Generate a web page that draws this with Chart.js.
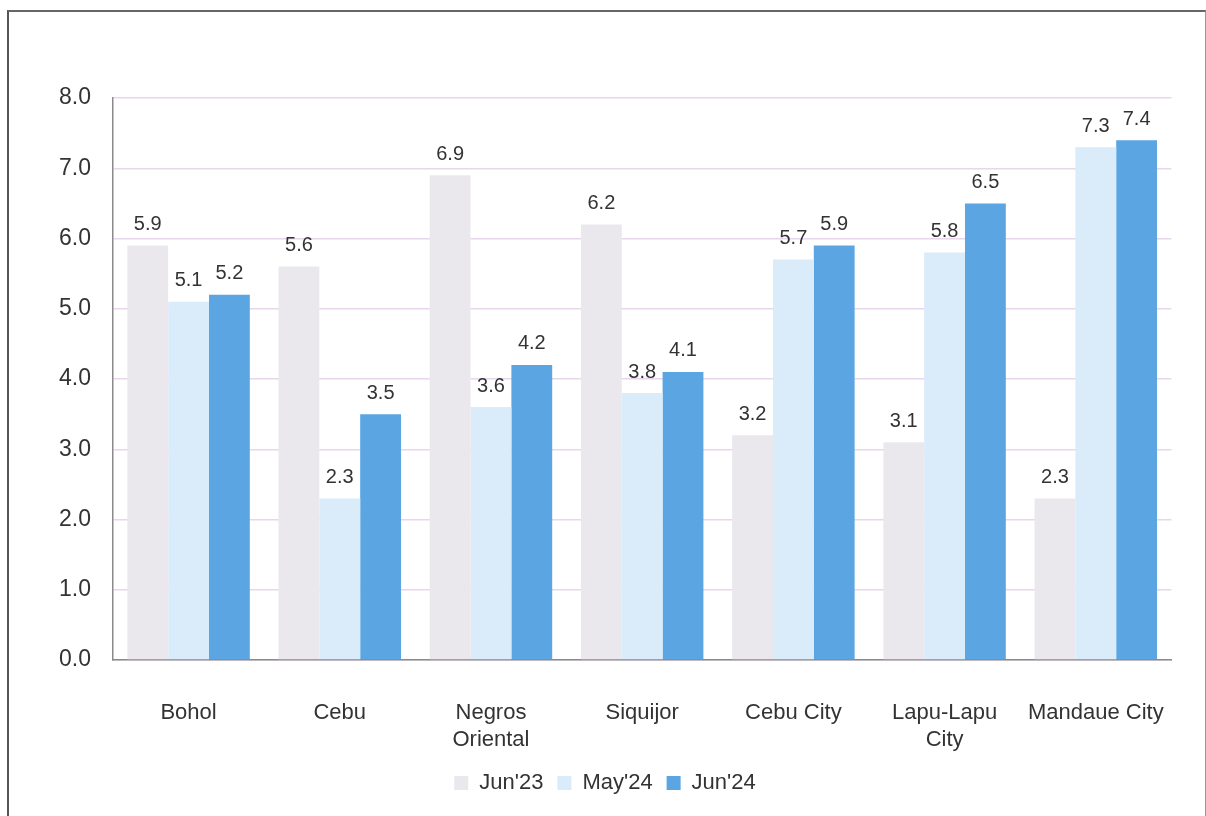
<!DOCTYPE html>
<html>
<head>
<meta charset="utf-8">
<script src="https://cdn.jsdelivr.net/npm/chart.js@4"></script>
<style>
  html, body { margin: 0; padding: 0; background: #fff; }
  #frame {
    position: absolute; left: 7px; top: 10px; width: 1196px; height: 820px;
    border-left: 2px solid #555; border-top: 2px solid #666; border-right: 1px solid #999;
  }
  #wrap { position: absolute; left: 0; top: 0; width: 1206px; height: 816px; }
</style>
</head>
<body>
<div id="frame"></div>
<div id="wrap"><canvas id="barChart"></canvas></div>
<script>
const provinces = ['Bohol', 'Cebu', ['Negros', 'Oriental'], 'Siquijor', 'Cebu City', ['Lapu-Lapu', 'City'], 'Mandaue City'];
const jun23 = [5.9, 5.6, 6.9, 6.2, 3.2, 3.1, 2.3];
const may24 = [5.1, 2.3, 3.6, 3.8, 5.7, 5.8, 7.3];
const jun24 = [5.2, 3.5, 4.2, 4.1, 5.9, 6.5, 7.4];
const yTicks = [0, 1, 2, 3, 4, 5, 6, 7, 8];

Chart.defaults.font.family = "'Liberation Sans', Arial, sans-serif";
Chart.defaults.color = '#333';

// value labels above each bar
const barLabels = {
    id: 'barLabels',
    afterDatasetsDraw(chart) {
        const c = chart.ctx;
        c.save();
        c.font = "20px 'Liberation Sans', Arial, sans-serif";
        c.fillStyle = '#333';
        c.textAlign = 'center';
        c.textBaseline = 'bottom';
        chart.data.datasets.forEach((ds, i) => {
            chart.getDatasetMeta(i).data.forEach((bar, j) => {
                c.fillText(ds.data[j].toFixed(1), bar.x, bar.y - 11);
            });
        });
        c.restore();
    }
};

const ctx = document.getElementById('barChart');

new Chart(ctx, {
    type: 'bar',
    data: {
        labels: provinces,
        datasets: [
            { label: "Jun'23", data: jun23, backgroundColor: '#eae8ed' },
            { label: "May'24", data: may24, backgroundColor: '#daebf9' },
            { label: "Jun'24", data: jun24, backgroundColor: '#5ba6e2' }
        ]
    },
    options: {
        responsive: true,
        maintainAspectRatio: false,
        animation: false,
        datasets: { bar: { categoryPercentage: 0.81, barPercentage: 1.0 } },
        layout: { padding: { left: 37, right: 33, top: 98, bottom: 12 } },
        scales: {
            x: {
                grid: { display: false, drawTicks: false },
                border: { display: true, color: '#8a8a8a', width: 1.5 },
                ticks: { font: { size: 22 }, color: '#333', padding: 40, maxRotation: 0 },
                afterFit(scale) { scale.height = 98; } // chart.js doubles tick padding in fit
            },
            y: {
                min: 0,
                max: 8,
                z: 1,
                afterBuildTicks(axis) { axis.ticks = yTicks.map(v => ({ value: v })); },
                grid: { color: 'rgba(214,180,222,0.55)', lineWidth: 1.5, drawTicks: false },
                border: { display: true, color: '#8a8a8a', width: 1.5 },
                ticks: {
                    font: { size: 23 }, color: '#333', padding: 22,
                    callback: v => v.toFixed(1)
                }
            }
        },
        plugins: {
            legend: {
                position: 'bottom',
                labels: { font: { size: 22 }, color: '#333', boxWidth: 14, boxHeight: 14, padding: 14 }
            },
            tooltip: { enabled: false }
        }
    },
    plugins: [barLabels]
});
</script>
</body>
</html>
